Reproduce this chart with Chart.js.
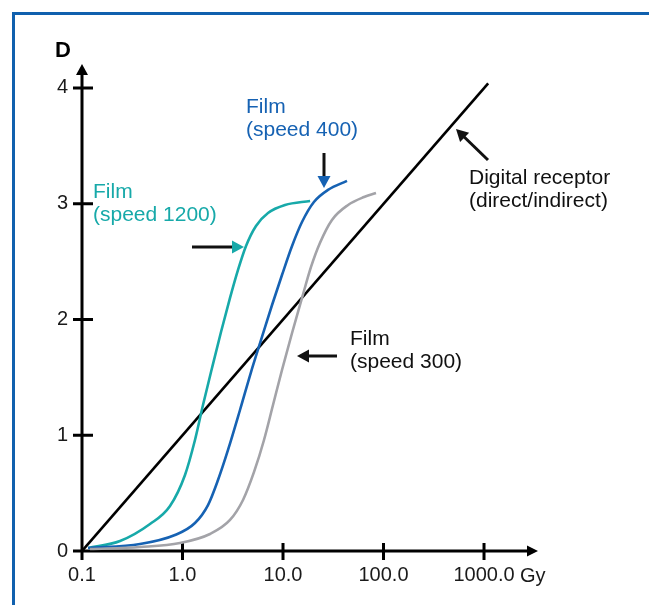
<!DOCTYPE html>
<html>
<head>
<meta charset="utf-8">
<script src="https://cdn.jsdelivr.net/npm/chart.js@4.4.1/dist/chart.umd.min.js"></script>
<style>
  html, body { margin: 0; padding: 0; background: #fff; }
  #wrap { width: 649px; height: 605px; }
</style>
</head>
<body>
<div id="wrap"><canvas id="myChart" width="649" height="605"></canvas></div>
<script>
// tick values / labels
const xTicks = [0.1, 1, 10, 100, 1000];
const xTickLabels = ["0.1", "1.0", "10.0", "100.0", "1000.0"];
const yTicks = [0, 1, 2, 3, 4];

// dose (Gy) and density D
const digitalDose = [0.1, 1100];
const digitalD = [0, 4.04];

const film1200Dose = [0.115, 0.239, 0.475, 0.751, 1.059, 1.331, 1.599, 1.966, 2.416, 2.97, 3.567, 4.285, 5.385, 7.09, 10.47, 18.6];
const film1200D = [0.026, 0.086, 0.233, 0.389, 0.657, 0.959, 1.261, 1.581, 1.892, 2.186, 2.428, 2.635, 2.808, 2.92, 2.989, 3.024];

const film400Dose = [0.115, 0.378, 0.842, 1.331, 1.794, 2.255, 2.837, 3.733, 4.806, 6.18, 7.78, 9.77, 12.3, 15.45, 20.3, 28.0, 43.3];
const film400D = [0.026, 0.06, 0.138, 0.242, 0.397, 0.613, 0.873, 1.218, 1.546, 1.849, 2.125, 2.384, 2.635, 2.842, 3.015, 3.119, 3.197];

const film300Dose = [0.12, 0.378, 0.944, 1.878, 2.97, 4.0, 5.15, 6.47, 7.95, 9.77, 12.3, 15.45, 19.0, 23.3, 30.7, 44.4, 64.0, 84.2];
const film300D = [0.017, 0.035, 0.069, 0.147, 0.268, 0.441, 0.683, 0.959, 1.261, 1.564, 1.883, 2.186, 2.454, 2.661, 2.86, 2.989, 3.058, 3.093];

const teal = "#17a9a9";
const blue = "#1662b3";
const grey = "#a3a3a8";
const frameBlue = "#1060ae";

const pts = (xs, ys) => xs.map((x, i) => ({ x: x, y: ys[i] }));

const arrowHead = (ctx, x, y, angle, len, half, color) => {
  ctx.save();
  ctx.translate(x, y);
  ctx.rotate(angle);
  ctx.beginPath();
  ctx.moveTo(0, 0);
  ctx.lineTo(-len, -half);
  ctx.lineTo(-len, half);
  ctx.closePath();
  ctx.fillStyle = color;
  ctx.fill();
  ctx.restore();
};

const arrow = (ctx, x1, y1, x2, y2, shaftColor, headColor) => {
  const a = Math.atan2(y2 - y1, x2 - x1);
  const len = 12;
  ctx.save();
  ctx.strokeStyle = shaftColor;
  ctx.lineWidth = 3;
  ctx.beginPath();
  ctx.moveTo(x1, y1);
  ctx.lineTo(x2 - Math.cos(a) * (len - 2), y2 - Math.sin(a) * (len - 2));
  ctx.stroke();
  ctx.restore();
  arrowHead(ctx, x2, y2, a, len, 6.5, headColor);
};

const axesPlugin = {
  id: "axes",
  beforeDatasetsDraw(chart) {
    const ctx = chart.ctx;
    const xs = chart.scales.x;
    const ys = chart.scales.y;
    const area = chart.chartArea;
    const x0 = xs.getPixelForValue(0.1);
    const y0 = ys.getPixelForValue(0);
    ctx.save();

    // blue frame
    ctx.strokeStyle = frameBlue;
    ctx.lineWidth = 3;
    ctx.strokeRect(13.5, 13.5, 700, 700);

    ctx.strokeStyle = "#000";
    ctx.lineWidth = 3;
    ctx.beginPath();
    ctx.moveTo(x0, y0 + 1.5);
    ctx.lineTo(x0, area.top + 8);
    ctx.moveTo(x0 - 1.5, y0);
    ctx.lineTo(area.right - 8, y0);
    yTicks.forEach((v) => {
      const y = ys.getPixelForValue(v);
      ctx.moveTo(x0 - 9, y);
      ctx.lineTo(x0 + 11, y);
    });
    xTicks.forEach((v) => {
      const x = xs.getPixelForValue(v);
      ctx.moveTo(x, y0 - 8);
      ctx.lineTo(x, y0 + 9);
    });
    ctx.stroke();
    arrowHead(ctx, x0, area.top, -Math.PI / 2, 11, 6, "#000");
    arrowHead(ctx, area.right - 2, y0, 0, 11, 5.5, "#000");
    ctx.restore();
  },
  afterDraw(chart) {
    const ctx = chart.ctx;
    const xs = chart.scales.x;
    const y0 = chart.scales.y.getPixelForValue(0);
    ctx.save();
    ctx.textBaseline = "alphabetic";
    ctx.textAlign = "left";

    ctx.fillStyle = "#000";
    ctx.font = "bold 22px 'Liberation Sans', Arial, sans-serif";
    ctx.fillText("D", 55, 57);

    ctx.font = "20px 'Liberation Sans', Arial, sans-serif";
    ctx.fillStyle = "#1a1a1a";
    ctx.fillText("Gy", xs.getPixelForValue(1000) + 36, y0 + 31);

    ctx.font = "21px 'Liberation Sans', Arial, sans-serif";
    ctx.fillStyle = blue;
    ctx.fillText("Film", 246, 113);
    ctx.fillText("(speed 400)", 246, 136);

    ctx.fillStyle = teal;
    ctx.fillText("Film", 93, 198);
    ctx.fillText("(speed 1200)", 93, 221);

    ctx.fillStyle = "#111";
    ctx.fillText("Film", 350, 345);
    ctx.fillText("(speed 300)", 350, 368);
    ctx.fillText("Digital receptor", 469, 184);
    ctx.fillText("(direct/indirect)", 469, 207);
    ctx.restore();

    arrow(ctx, 192, 247, 244, 247, "#111", teal);
    arrow(ctx, 324, 153, 324, 188, "#111", blue);
    arrow(ctx, 337, 356, 297, 356, "#111", "#111");
    arrow(ctx, 488, 160, 456, 129, "#111", "#111");
  },
};

const line = (data, color, width) => ({
  data: data,
  borderColor: color,
  borderWidth: width,
  pointRadius: 0,
  fill: false,
  cubicInterpolationMode: "monotone",
});

chart = new Chart("myChart", {
  type: "line",
  data: {
    datasets: [
      line(pts(film300Dose, film300D), grey, 2.6),
      line(pts(film400Dose, film400D), blue, 2.6),
      line(pts(film1200Dose, film1200D), teal, 2.6),
      { ...line(pts(digitalDose, digitalD), "#000", 2.6), cubicInterpolationMode: "default", tension: 0 },
    ],
  },
  options: {
    responsive: false,
    animation: false,
    devicePixelRatio: 1,
    layout: { padding: { left: 22, top: 64, right: 109, bottom: 0 } },
    plugins: { legend: { display: false }, tooltip: { enabled: false } },
    scales: {
      x: {
        type: "logarithmic",
        min: 0.1,
        max: 3606,
        grid: { display: false, drawTicks: false },
        border: { display: false },
        afterBuildTicks: (scale) => {
          scale.ticks = xTicks.map((v) => ({ value: v }));
        },
        afterFit: (scale) => {
          scale.height = 54;
        },
        ticks: {
          autoSkip: false,
          maxRotation: 0,
          padding: 12,
          color: "#1a1a1a",
          font: { family: "'Liberation Sans', Arial, sans-serif", size: 20 },
          callback: (v, i) => xTickLabels[i],
        },
      },
      y: {
        type: "linear",
        min: 0,
        max: 4.207,
        grid: { display: false, drawTicks: false },
        border: { display: false },
        afterBuildTicks: (scale) => {
          scale.ticks = yTicks.map((v) => ({ value: v }));
        },
        afterFit: (scale) => {
          scale.width = 60;
        },
        ticks: {
          padding: 14,
          color: "#1a1a1a",
          font: { family: "'Liberation Sans', Arial, sans-serif", size: 20 },
          callback: (v) => String(v),
        },
      },
    },
  },
  plugins: [axesPlugin],
});
</script>
</body>
</html>
